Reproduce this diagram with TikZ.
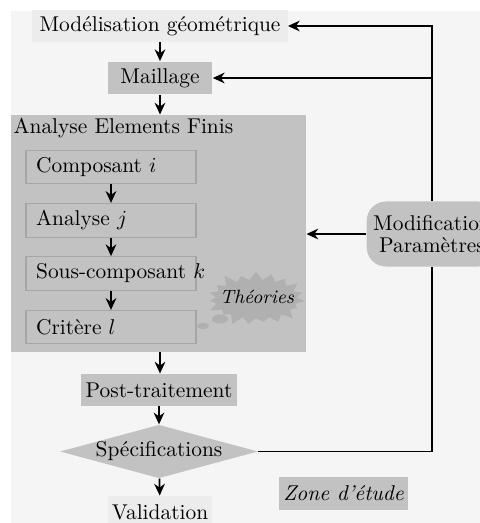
\documentclass[tikz,border=0pt]{standalone}
\usetikzlibrary{arrows.meta,shapes.geometric,shapes.symbols,calc}
\definecolor{bgc}{HTML}{F5F5F5}
\definecolor{lightbox}{HTML}{ECECEC}
\definecolor{midbox}{HTML}{C2C2C2}
\definecolor{innerborder}{HTML}{A6A6A6}
\definecolor{starc}{HTML}{B0B0B0}
\tikzset{
  arr/.style={-{Stealth[length=5.5pt,width=5pt]}, line width=0.8pt},
  fb/.style={line width=0.8pt},
  graybox/.style={fill=midbox, inner sep=2pt},
  innerbox/.style={draw=innerborder, line width=0.6pt, fill=midbox, inner xsep=2.2pt, minimum height=15.4pt},
}
\newcommand{\ibtext}[1]{\makebox[75pt][l]{\hspace*{2.5pt}#1}}
\begin{document}
\begin{tikzpicture}[x=0.4673pt,y=-0.4673pt]
\useasboundingbox (0,0) rectangle (480,523);
\clip (0,0) rectangle (480,523);
\fill[bgc] (11,11) rectangle (500,540);
% top nodes
\node[fill=lightbox, minimum width=119.2pt, minimum height=14.5pt, inner sep=1pt] (model) at (160,26) {Modélisation géométrique};
\node[graybox, minimum width=49pt, minimum height=15.4pt] (maill) at (160,78) {Maillage};
% FEA block
\node[fill=midbox, minimum width=137.9pt, minimum height=110.8pt, inner sep=0pt] (aef) at (158.5,233.5) {};
\node[anchor=north west, inner sep=1pt] (aeft) at (11,116) {Analyse Elements Finis};
\node[innerbox] (c1) at (111,167) {\ibtext{Composant $i$}};
\node[innerbox] (c2) at (111,220.5) {\ibtext{Analyse $j$}};
\node[innerbox] (c3) at (111,273.5) {\ibtext{Sous-composant $k$}};
\node[innerbox] (c4) at (111,327) {\ibtext{Critère $l$}};
\fill[starc] (220,319) ellipse (8 and 4.5);
\fill[starc] (203,326) ellipse (6 and 3);
\node[starburst, starburst points=19, starburst point height=5pt, fill=starc, minimum width=48pt, minimum height=28pt, inner sep=0pt] (theo) at (256,299) {};
\node[inner sep=0pt] (theot) at (257,297) {\small\itshape Théories};
\draw[arr] (c1) -- (c2);
\draw[arr] (c2) -- (c3);
\draw[arr] (c3) -- (c4);
% lower nodes
\node[graybox, minimum width=69.2pt, minimum height=15pt] (post) at (159,390) {Post-traitement};
\node[diamond, aspect=3.7, fill=midbox, minimum width=88.3pt, minimum height=23.8pt, inner sep=0pt] (spec) at (159,451.5) {Spécifications};
\node[fill=lightbox, minimum width=49pt, minimum height=15pt, inner sep=1pt] (valid) at (160,512) {Validation};
\node[graybox, minimum width=59.3pt, minimum height=15.4pt] (zone) at (343.5,493.5) {\itshape Zone d'étude};
% modification node
\node[fill=midbox, rounded corners=9pt, minimum width=61pt, minimum height=30.4pt, align=center, inner sep=1pt] (mod) at (432,234) {Modification\\[-2pt]Paramètres};
% arrows
\draw[arr] (model.south -| maill) -- (maill.north);
\draw[arr] (maill.south) -- (maill.south |- aef.north);
\draw[arr] (maill.south |- aef.south) -- (post.north -| maill.south);
\draw[arr] (post) -- (spec);
\draw[arr] (spec) -- (valid);
\draw[arr] (mod.west) -- (mod.west -| aef.east);
% feedback loop
\draw[fb] (spec.east) -- (spec.east -| mod) -- (mod.south);
\draw[arr] (mod.north) |- (model.east);
\coordinate (mj) at (mod.north |- maill.east);
\draw[arr] (mj) -- (maill.east);
\end{tikzpicture}
\end{document}
